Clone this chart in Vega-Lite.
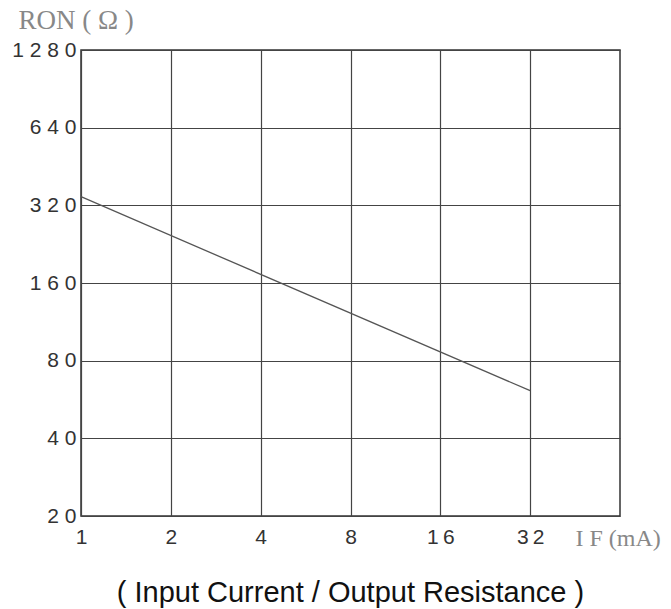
{
  "$schema": "https://vega.github.io/schema/vega-lite/v6.json",
  "width": 539,
  "height": 466,
  "autosize": {"type": "none"},
  "padding": {"left": 81, "top": 50, "right": 51, "bottom": 93},
  "background": "white",
  "title": {
    "text": "( Input Current / Output Resistance )",
    "orient": "bottom",
    "anchor": "middle",
    "font": "Liberation Sans",
    "fontSize": 29,
    "fontWeight": "normal",
    "color": "#111",
    "offset": 29
  },
  "config": {
    "view": {"stroke": "#333", "strokeWidth": 1.5}
  },
  "data": {
    "values": [
      {"IF": 1, "RON": 345.6},
      {"IF": 32, "RON": 61.2}
    ]
  },
  "mark": {"type": "line", "color": "#555", "strokeWidth": 1.3},
  "encoding": {
    "x": {
      "field": "IF",
      "type": "quantitative",
      "scale": {"type": "log", "base": 2, "domain": [1, 64], "nice": false},
      "axis": {
        "values": [1, 2, 4, 8, 16, 32],
        "labelExpr": "join(split(toString(datum.value), ''), '\u2009')",
        "labelFont": "Liberation Sans",
        "labelFontSize": 21,
        "labelColor": "#333",
        "labelPadding": 10,
        "labelFlush": false,
        "ticks": false,
        "domain": false,
        "grid": true,
        "gridColor": "#444",
        "gridWidth": 1.2,
        "gridOpacity": 1,
        "title": "I F (mA)",
        "titleFont": "Liberation Serif",
        "titleFontSize": 24,
        "titleFontWeight": "normal",
        "titleColor": "#888",
        "titleAlign": "left",
        "titleBaseline": "middle",
        "titleAngle": 0,
        "titleX": 494,
        "titleY": 22
      }
    },
    "y": {
      "field": "RON",
      "type": "quantitative",
      "scale": {"type": "log", "base": 2, "domain": [20, 1280], "nice": false},
      "axis": {
        "values": [20, 40, 80, 160, 320, 640, 1280],
        "labelExpr": "join(split(toString(datum.value), ''), ' ')",
        "labelFont": "Liberation Sans",
        "labelFontSize": 21,
        "labelColor": "#333",
        "labelPadding": 5,
        "ticks": false,
        "domain": false,
        "grid": true,
        "gridColor": "#444",
        "gridWidth": 1.2,
        "gridOpacity": 1,
        "title": "RON ( Ω )",
        "titleFont": "Liberation Serif",
        "titleFontSize": 27,
        "titleFontWeight": "normal",
        "titleColor": "#888",
        "titleAlign": "left",
        "titleBaseline": "middle",
        "titleAngle": 0,
        "titleX": -63,
        "titleY": -30
      }
    }
  }
}
